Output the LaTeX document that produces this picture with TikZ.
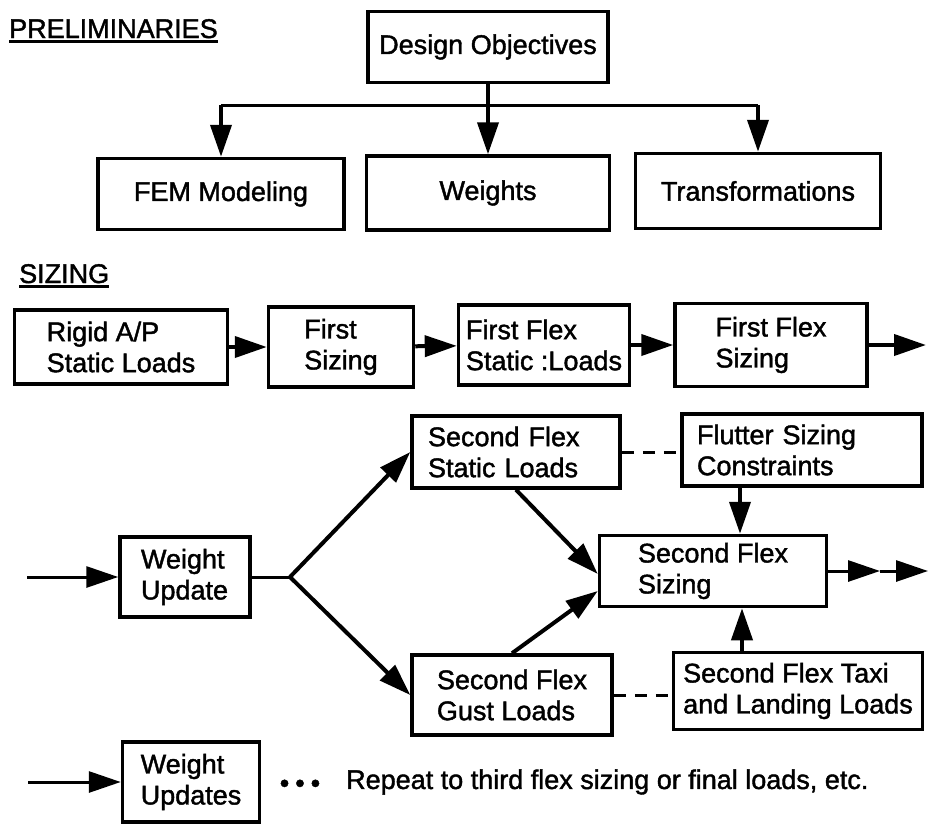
\documentclass[tikz,border=0pt]{standalone}
\usepackage{fontspec}
\setmainfont{Liberation Sans}
\newfontfamily\scanfont{Liberation Sans}[FakeBold=1.5]
\usetikzlibrary{arrows.meta}

\begin{document}
\begin{tikzpicture}[x=1pt,y=-1pt,
  font=\scanfont\fontsize{27}{31}\selectfont,
  box/.style={draw, line width=3.5pt, align=left},
  lbox/.style={box, inner xsep=16pt},
  arr/.style={line width=4pt, -{Triangle[length=32pt,width=21pt]}},
  link/.style={line width=3pt},
  dashlink/.style={line width=3pt, dash pattern=on 12pt off 9pt}]
  \useasboundingbox (0,0) rectangle (929,825);
  % preliminaries
  \node[anchor=base west, inner sep=0] (prelim) at (9,38) {PRELIMINARIES};
  \draw[line width=2.5pt] ([yshift=-3pt]prelim.south west) -- ([yshift=-3pt]prelim.south east);
  \node[box, minimum width=240, minimum height=71] (DesignObj) at (488,47) {Design Objectives};
  \node[box, minimum width=246, minimum height=71] (FEM) at (221,194) {FEM Modeling};
  \node[box, minimum width=243, minimum height=74] (Weights) at (488,193) {Weights};
  \node[box, minimum width=245, minimum height=75] (Transf) at (758,191) {Transformations};
  \coordinate (bus) at (488,105);
  \draw[arr] (DesignObj) -- (Weights);
  \draw[link] (FEM.north |- bus) -- (Transf.north |- bus);
  \draw[arr] (FEM.north |- bus) -- (FEM.north);
  \draw[arr] (Transf.north |- bus) -- (Transf.north);
  % sizing, first row
  \node[anchor=base west, inner sep=0] (sizing) at (19,283) {SIZING};
  \draw[line width=2.5pt] ([yshift=-3pt]sizing.south west) -- ([yshift=-3pt]sizing.south east);
  \node[box, minimum width=213, minimum height=74] (RigidLoads) at (121,347) {Rigid A/P\\Static Loads};
  \node[box, minimum width=145, minimum height=80] (FirstSizing) at (341,347) {First\\Sizing};
  \node[box, minimum width=171, minimum height=80] (FlexLoads) at (544,345) {First Flex\\Static :Loads};
  \node[box, minimum width=192, minimum height=83] (FlexSizing) at (771,345) {First Flex\\Sizing};
  \coordinate (rowout) at (926,345);
  \draw[arr] (RigidLoads) -- (FirstSizing);
  \draw[arr] (FirstSizing) -- (FlexLoads);
  \draw[arr] (FlexLoads) -- (FlexSizing);
  \draw[arr] (FlexSizing) -- (rowout);
  % second flex
  \node[lbox, inner xsep=21pt, text width=88, minimum height=80] (WeightUpd) at (185,577) {Weight\\Update};
  \node[lbox, text width=176, minimum height=72] (Static2) at (516,452) {Second Flex\\Static Loads};
  \node[lbox, inner xsep=15pt, text width=210, minimum height=72] (Flutter) at (802,450) {Flutter Sizing\\Constraints};
  \node[box, minimum width=227, minimum height=71] (Sizing2) at (713,571) {Second Flex\\Sizing};
  \node[box, minimum width=200, minimum height=80] (Gust2) at (512,695) {Second Flex\\Gust Loads};
  \node[box, minimum width=249, minimum height=77] (Taxi) at (798,691) {Second Flex Taxi\\and Landing Loads};
  \coordinate (inWU) at (27,577);
  \coordinate (fork) at (290,577);
  \draw[arr, line width=3pt] (inWU) -- (WeightUpd);
  \draw[link] (WeightUpd) -- (fork);
  \draw[arr] (fork) -- (Static2.west);
  \draw[arr] (fork) -- (Gust2.west);
  \draw[arr] (Static2.south) -- ([yshift=-3pt]Sizing2.west);
  \draw[arr] (Gust2.north) -- ([yshift=-20pt]Sizing2.west);
  \draw[arr] ([xshift=-62pt]Flutter.south) -- ([xshift=-62pt]Flutter.south |- Sizing2.north);
  \draw[arr] ([xshift=-56pt]Taxi.north) -- ([xshift=-56pt]Taxi.north |- Sizing2.south);
  \draw[dashlink] (Static2.east) -- (Static2.east -| Flutter.west);
  \draw[dashlink] (Gust2.east) -- (Gust2.east -| Taxi.west);
  \coordinate (midtip) at (880,571);
  \coordinate (out2) at (928,571);
  \draw[arr, line width=3pt] (Sizing2) -- (midtip);
  \draw[arr, line width=3pt] (midtip) -- (out2);
  % repeat line
  \node[box, minimum width=137, minimum height=80] (WeightUpds) at (191,782) {Weight\\Updates};
  \coordinate (inWUs) at (28,782);
  \draw[arr, line width=3pt] (inWUs) -- (WeightUpds);
  \node[inner sep=0] (dots) at (300,786) {•\hspace{6pt}•\hspace{6pt}•};
  \node[anchor=west, inner sep=0] (repeat) at (346,782) {Repeat to third flex sizing or final loads, etc.};
\end{tikzpicture}
\end{document}
